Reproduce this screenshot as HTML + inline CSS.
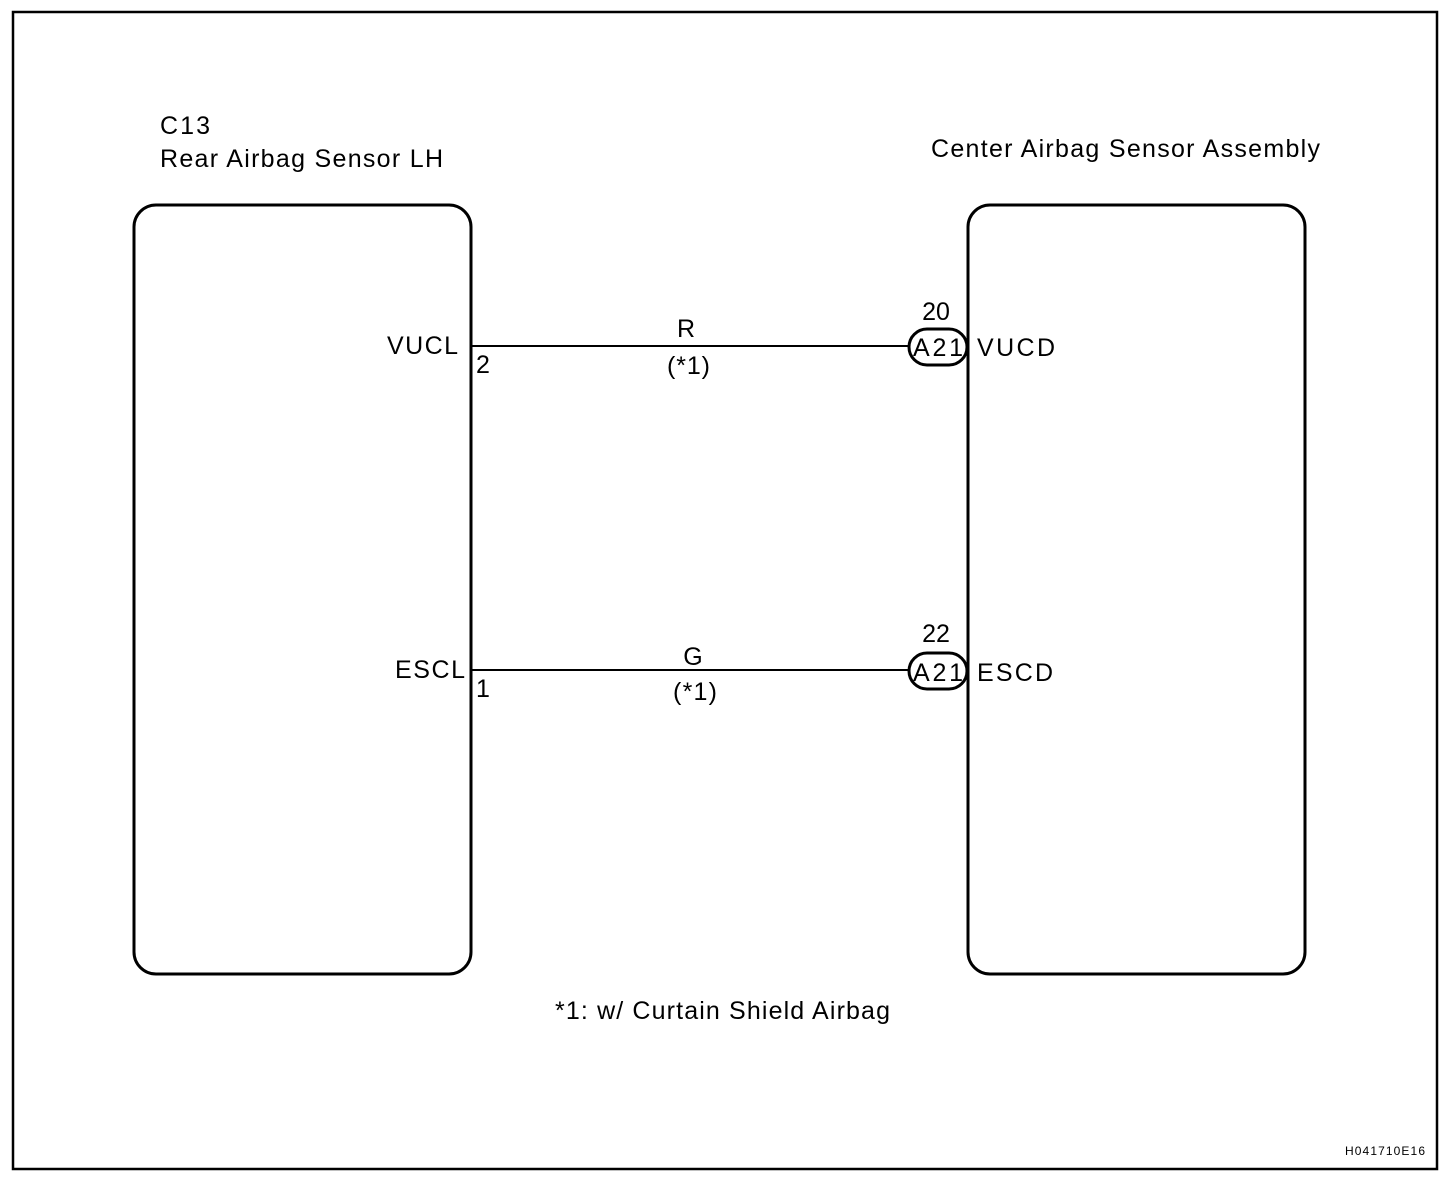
<!DOCTYPE html>
<html><head><style>body{margin:0;background:#fff}svg{display:block}text{font-family:"Liberation Sans",Arial,sans-serif;fill:#000}</style></head>
<body>
<svg width="1456" height="1194" viewBox="0 0 1456 1194">
<rect x="13" y="12" width="1424" height="1157" fill="none" stroke="#000" stroke-width="2.5"/>
<rect x="134" y="205" width="337" height="769" rx="22" fill="none" stroke="#000" stroke-width="3"/>
<rect x="968" y="205" width="337" height="769" rx="22" fill="none" stroke="#000" stroke-width="3"/>
<g font-size="25">
<text x="160" y="134" textLength="50">C13</text>
<text x="160" y="167" textLength="283">Rear Airbag Sensor LH</text>
<text x="931" y="157" textLength="389">Center Airbag Sensor Assembly</text>
<text x="387" y="354" textLength="71">VUCL</text>
<text x="476" y="373">2</text>
<text x="395" y="678" textLength="70">ESCL</text>
<text x="476" y="697">1</text>
<text x="686" y="337" text-anchor="middle">R</text>
<text x="667" y="374" textLength="43">(*1)</text>
<text x="693" y="665" text-anchor="middle">G</text>
<text x="673" y="700" textLength="44">(*1)</text>
<text x="936" y="320" text-anchor="middle">20</text>
<text x="936" y="642" text-anchor="middle">22</text>
<text x="977" y="356" textLength="78">VUCD</text>
<text x="977" y="681" textLength="76">ESCD</text>
<text x="913" y="356" textLength="50">A21</text>
<text x="913" y="681" textLength="50">A21</text>
<text x="555" y="1019" textLength="335">*1: w/ Curtain Shield Airbag</text>
</g>
<line x1="471" y1="346" x2="909" y2="346" stroke="#000" stroke-width="2"/>
<line x1="471" y1="670" x2="909" y2="670" stroke="#000" stroke-width="2"/>
<rect x="909" y="329" width="58" height="36" rx="18" fill="none" stroke="#000" stroke-width="3"/>
<rect x="909" y="653" width="58" height="36" rx="18" fill="none" stroke="#000" stroke-width="3"/>
<text x="1345" y="1155" font-size="12" textLength="80">H041710E16</text>
</svg>
</body></html>
